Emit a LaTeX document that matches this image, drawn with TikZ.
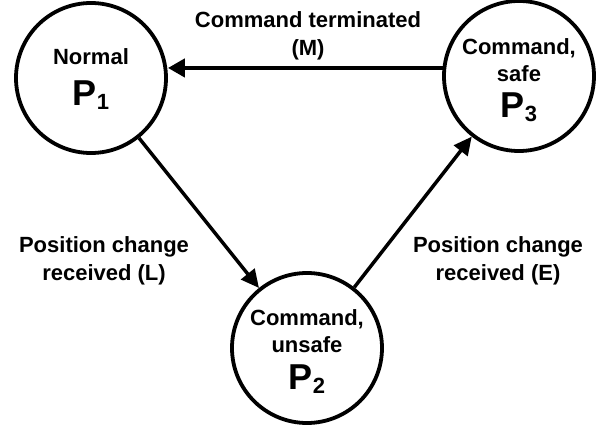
\documentclass[tikz,border=0pt]{standalone}
\usepackage{fontspec}
\setmainfont{Liberation Sans}
\usetikzlibrary{arrows.meta}
\tikzset{
  state/.style={circle, draw, line width=3.8pt, minimum size=150pt, inner sep=0pt, align=center,
    font=\fontsize{22}{27}\selectfont\bfseries},
  lbl/.style={align=center, font=\fontsize{22}{28}\selectfont\bfseries, inner sep=0pt},
  conn/.style={line width=3.5pt, -{Triangle[length=18pt,width=17pt]}},
  hconn/.style={line width=4.5pt, -{Triangle[length=17pt,width=18pt]}}
}
\newcommand{\bigP}[1]{{\fontsize{36}{38}\selectfont P}\raisebox{-4pt}{#1}}
\begin{document}
\begin{tikzpicture}[x=1pt,y=-1pt]
\useasboundingbox (0,0) rectangle (605,430);
\node[state] (P1) at (91,78) {\rule{0pt}{18pt}Normal\\[14pt]\bigP{1}};
\node[state] (P3) at (519,76) {\rule{0pt}{24pt}Command,\\safe\\[9pt]\bigP{3}};
\node[state] (P2) at (307,348) {\rule{0pt}{22pt}Command,\\unsafe\\[10pt]\bigP{2}};
\coordinate (h3) at (P3.174);
\draw[hconn] (h3) -- (P1.east |- h3);
\draw[conn] (P1) -- (P2);
\draw[conn] (P2) -- (P3);
\node[lbl] (lm) at (308,36) {Command terminated\\(M)};
\node[lbl] (ll) at (104,261) {Position change\\received (L)};
\node[lbl] (le) at (498,261) {Position change\\received (E)};
\end{tikzpicture}
\end{document}
